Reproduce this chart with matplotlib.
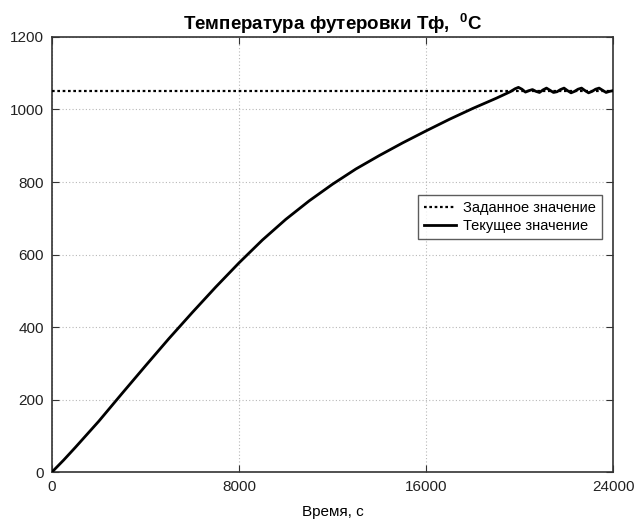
import matplotlib
matplotlib.use("Agg")
import matplotlib.pyplot as plt

plt.rcParams["font.family"] = ["Liberation Sans", "DejaVu Sans"]
plt.rcParams["mathtext.fontset"] = "custom"
plt.rcParams["mathtext.rm"] = "Liberation Sans"
plt.rcParams["mathtext.bf"] = "Liberation Sans:bold"

# Data
setpoint = 1050
time_s = [0, 500, 1000, 1500, 2000, 3000, 4000, 5000, 6000, 7000, 8000, 9000,
          10000, 11000, 12000, 13000, 14000, 15000, 16000, 17000, 18000,
          19000, 19600,
          19800, 19950, 20100, 20250, 20400, 20550, 20700, 20850, 21000,
          21150, 21300, 21450, 21600, 21750, 21900, 22050, 22200, 22350,
          22500, 22650, 22800, 22950, 23100, 23250, 23400, 23550, 23700,
          23850, 24000]
temp = [0, 33, 68, 104, 140, 217, 293, 368, 440, 510, 577, 640,
        697, 748, 794, 836, 873, 908, 941, 973, 1003,
        1031, 1049,
        1057, 1061, 1056, 1048, 1052, 1055, 1050, 1047, 1054,
        1059, 1053, 1047, 1049, 1055, 1059, 1052, 1046, 1050,
        1056, 1059, 1052, 1046, 1050, 1056, 1059, 1053, 1047,
        1050, 1052]

xticks = [0, 8000, 16000, 24000]
yticks = [0, 200, 400, 600, 800, 1000, 1200]

C_AX = "#333333"
C_GRID = "#b8b8b8"

fig = plt.figure(figsize=(6.38, 5.24), dpi=100)
ax = fig.add_axes([0.0815, 0.0992, 0.8795, 0.8302])

ax.axhline(setpoint, color="black", linestyle=(0, (1.2, 1.2)), linewidth=1.6,
           label="Заданное значение", zorder=3)
ax.plot(time_s, temp, color="black", linewidth=2.0,
        label="Текущее значение", zorder=4)

ax.set_xlim(0, 24000)
ax.set_ylim(0, 1200)
ax.set_xticks(xticks)
ax.set_yticks(yticks)
ax.tick_params(direction="in", top=True, right=True, length=5,
               labelsize=11, colors=C_AX, labelcolor="#222222", pad=6)
ax.grid(True, color=C_GRID, linestyle=(0, (1, 2)), linewidth=0.8)
for sp in ax.spines.values():
    sp.set_color(C_AX)
    sp.set_linewidth(1.2)

ax.set_title("Температура футеровки Тф,  $^{\\mathbf{0}}$С",
             fontsize=13.5, fontweight="bold", pad=5)
ax.set_xlabel("Время, с", fontsize=11, labelpad=8)

leg = ax.legend(loc="upper right", bbox_to_anchor=(0.993, 0.653),
                fontsize=10.5, frameon=True, fancybox=False,
                handlelength=2.2, handletextpad=0.5,
                borderpad=0.4, labelspacing=0.3)
leg.get_frame().set_edgecolor(C_AX)
leg.get_frame().set_linewidth(1.0)

fig.savefig("out.png", dpi=100)
